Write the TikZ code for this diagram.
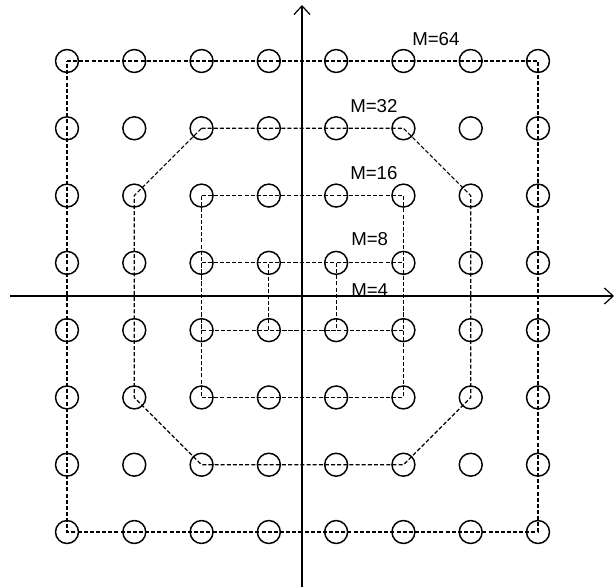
\documentclass[tikz,border=0pt]{standalone}
\usepackage{fontspec}
\setmainfont{Liberation Sans}
\usetikzlibrary{arrows.meta}
\begin{document}
\begin{tikzpicture}[x=0.75pt,y=-0.75pt,
  pt/.style={circle,draw,line width=1.1pt,minimum size=17.2pt,inner sep=0pt},
  bound/.style={dash pattern=on 3pt off 1.6pt,line width=0.9pt},
  axis/.style={line width=0.9pt,-{Straight Barb[length=6.5pt,width=12pt]}},
  lab/.style={anchor=base west,inner sep=0pt,font=\fontsize{14}{16}\selectfont}]
\useasboundingbox (0,0) rectangle (615,587);
% axes
\coordinate (ybot) at (302,587);
\coordinate (ytop) at (302,5);
\coordinate (xl) at (10,296);
\coordinate (xr) at (614,296);
\draw[axis] (ybot) -- (ytop);
\draw[axis] (xl) -- (xr);
% constellation points
\foreach \i in {1,...,8}{
  \foreach \j in {1,...,8}{
    \node[pt] (c\i\j) at ({67+67.286*(\i-1)},{61+67.286*(\j-1)}) {};
  }
}
% M=64
\draw[bound] (c11.center) -- (c81.center) -- (c88.center) -- (c18.center) -- cycle;
% M=32
\draw[bound] (c32.center) -- (c62.center) -- (c73.center) -- (c76.center) -- (c67.center)
  -- (c37.center) -- (c26.center) -- (c23.center) -- cycle;
% M=16
\draw[bound] (c33.center) -- (c63.center) -- (c66.center) -- (c36.center) -- cycle;
% M=8
\draw[bound] (c34.center) -- (c64.center) -- (c65.center) -- (c35.center) -- cycle;
% M=4
\draw[bound] (c44.center) -- (c54.center) -- (c55.center) -- (c45.center) -- cycle;
% labels
\node[lab] (l64) at (412,45) {M=64};
\node[lab] (l32) at (350,112) {M=32};
\node[lab] (l16) at (350,179) {M=16};
\node[lab] (l8) at (351,245) {M=8};
\node[lab] (l4) at (351,296) {M=4};
\end{tikzpicture}
\end{document}
